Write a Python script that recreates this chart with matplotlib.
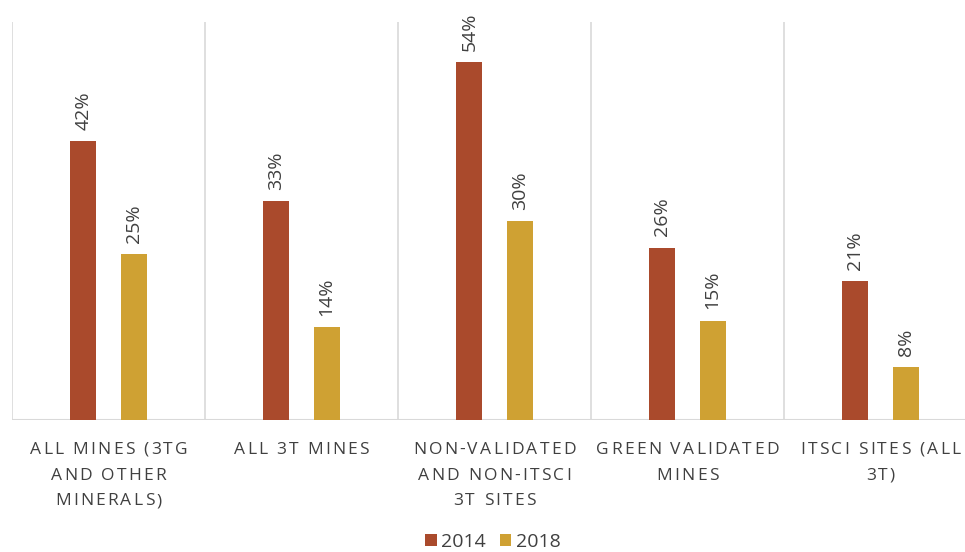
import matplotlib
matplotlib.use("Agg")
import matplotlib.pyplot as plt
import matplotlib.transforms as mtransforms
from matplotlib.font_manager import FontProperties
import numpy as np

categories = ["ALL MINES (3TG\nAND OTHER\nMINERALS)", "ALL 3T MINES",
              "NON-VALIDATED\nAND NON-ITSCI\n3T SITES", "GREEN VALIDATED\nMINES",
              "ITSCI SITES (ALL\n3T)"]
series_names = ["2014", "2018"]
values_2014 = [42, 33, 54, 26, 21]
values_2018 = [25, 14, 30, 15, 8]

colors = ["#AA4A2C", "#CFA133"]

plt.rcParams['font.family'] = ['Open Sans', 'DejaVu Sans']

fig = plt.figure(figsize=(9.65, 5.52), dpi=100)
ax = fig.add_axes([12/965, 132/552, 965/965, 398/552])

x = np.arange(len(categories))
w = 0.135
off = 0.13
b1 = ax.bar(x - off, values_2014, w, color=colors[0], label=series_names[0], zorder=3)
b2 = ax.bar(x + off, values_2018, w, color=colors[1], label=series_names[1], zorder=3)

for bars, vals in ((b1, values_2014), (b2, values_2018)):
    for r, v in zip(bars, vals):
        ax.annotate(f"{v}%", (r.get_x() + r.get_width()/2, r.get_height()),
                    xytext=(0, 8), textcoords="offset points", rotation=90,
                    ha="center", va="bottom", fontsize=14, color="#404040")

ax.set_xlim(-0.5, len(categories) - 0.5)
ax.set_ylim(0, 60)
for b in np.arange(-0.5, len(categories), 1.0):
    ax.axvline(b, color="#D9D9D9", lw=1.2, zorder=1)
ax.axhline(0, color="#D9D9D9", lw=1.5, zorder=2)

for s in ax.spines.values():
    s.set_visible(False)
ax.set_yticks([])
ax.set_xticks([])

# letter-spaced category labels
fp = FontProperties(family=['Open Sans', 'DejaVu Sans'], size=12.5)
renderer = fig.canvas.get_renderer()

def char_w(ch):
    wa, _, _ = renderer.get_text_width_height_descent("I" + ch + "I", fp, ismath=False)
    wb, _, _ = renderer.get_text_width_height_descent("II", fp, ismath=False)
    return wa - wb

spacing = 2.2  # px
line_step = 25.5  # px
first_baseline = 34  # px below axis bottom
base = mtransforms.blended_transform_factory(ax.transData, ax.transAxes)
for xi, lab in zip(x, categories):
    for li, line in enumerate(lab.split("\n")):
        widths = [char_w(c) for c in line]
        total = sum(widths) + spacing * (len(line) - 1)
        cur = -total / 2
        for c, cw in zip(line, widths):
            if c != " ":
                t = mtransforms.offset_copy(base, fig=fig, x=cur,
                                            y=-(first_baseline + li * line_step),
                                            units="dots")
                ax.text(xi, 0, c, transform=t, fontproperties=fp, color="#404040",
                        ha="left", va="baseline", clip_on=False)
            cur += cw + spacing

fig.legend(handles=[b1, b2], labels=series_names, loc="center",
           bbox_to_anchor=(493/965, 1 - 542/552), ncol=2, frameon=False,
           fontsize=14, handlelength=0.6, handleheight=0.6,
           handletextpad=0.25, columnspacing=0.7, labelcolor="#404040")

fig.savefig("out.png", dpi=100)
